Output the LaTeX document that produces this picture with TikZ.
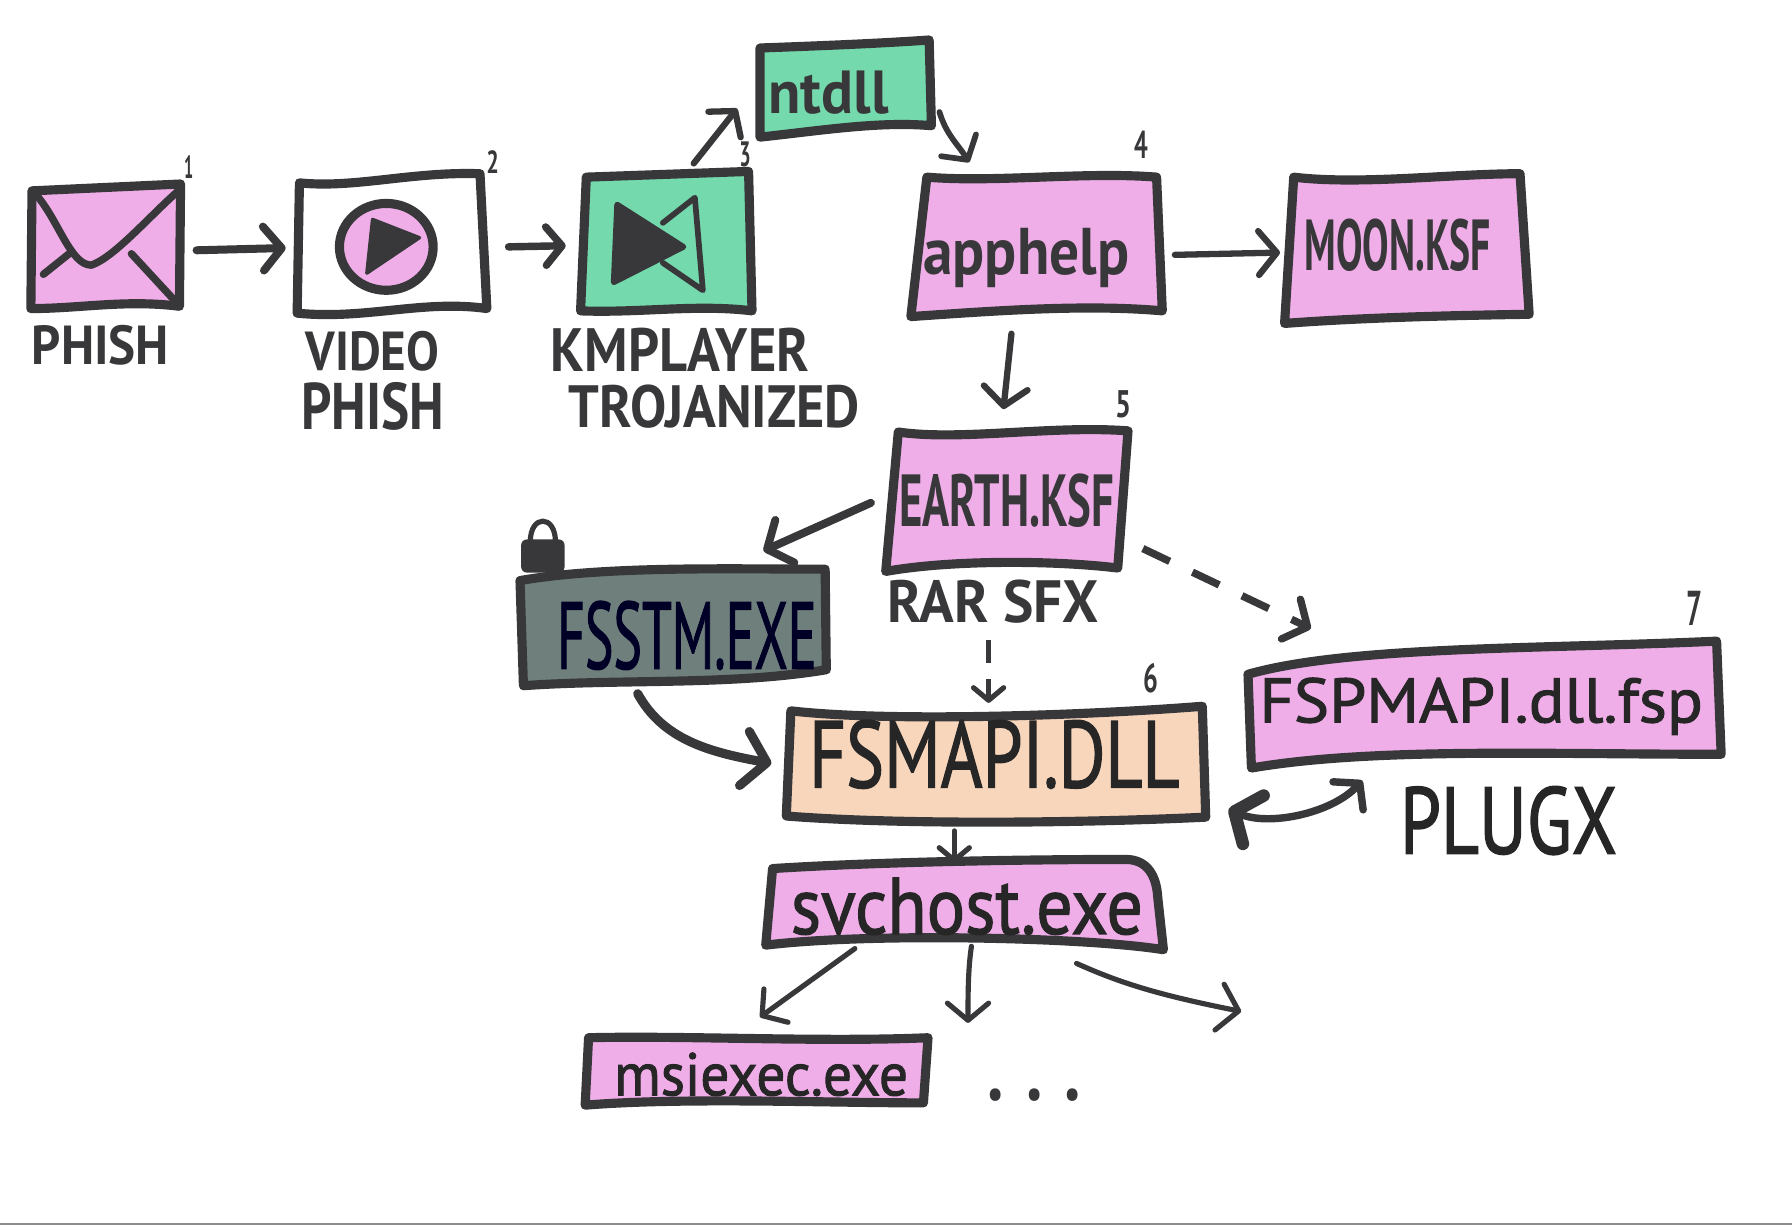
\documentclass[tikz,border=0pt]{standalone}
\usepackage{graphicx}
\usepackage{fontspec}
\setmainfont{PT Sans}
\newfontfamily\midfont[FakeBold=1.6]{PT Sans}
\usetikzlibrary{arrows.meta,calc}
\definecolor{ink}{HTML}{38383A}
\definecolor{pinkm}{HTML}{F0AEE8}
\definecolor{greenm}{HTML}{74D9AC}
\definecolor{peachm}{HTML}{F8D6BC}
\definecolor{darkm}{HTML}{6F7F7C}
\tikzset{
  hit/.style={inner sep=0pt,outer sep=0pt,draw=none,rectangle},
  boxline/.style={draw=ink,line width=8pt,line join=round,line cap=round},
  lab/.style={inner sep=0pt,outer sep=0pt,text=ink,font=\bfseries},
  thinlab/.style={inner sep=0pt,outer sep=0pt,text=black!85,font=\midfont},
  darklab/.style={inner sep=0pt,outer sep=0pt,text=black!85!blue,font=\midfont},
  wire/.style={draw=ink,line cap=round,line join=round,-{Straight Barb[length=#1*1.0pt,width=#1*2.4pt,round]}},
  wire/.default=14,
  dashwire/.style={wire=16,line width=6.5pt,dash pattern=on 26pt off 22pt,line cap=butt},
}
\newcommand{\mylab}[6][lab]{\node[#1] (#2) at (#3) {\resizebox*{#4pt}{#5pt}{#6}};}
\begin{document}
\begin{tikzpicture}[x=1pt,y=-1pt]
\useasboundingbox (0,0) rectangle (1568,1078);
\fill[white] (0,0) rectangle (1568,1078);
\coordinate (scanl) at (0,1071); \coordinate (scanr) at (1568,1071);
\draw[black!45,line width=1.2pt] (scanl) -- (scanr);

% connection-anchor nodes of the boxes
\node[hit,minimum width=132pt,minimum height=110pt] (env) at (92,216) {};
\node[hit,minimum width=164pt,minimum height=122pt] (video) at (342,214) {};
\node[hit,minimum width=148pt,minimum height=122pt] (km) at (583,212) {};
\node[hit,minimum width=150pt,minimum height=84pt] (ntdll) at (740,78) {};
\node[hit,minimum width=220pt,minimum height=122pt] (apphelp) at (907,215) {};
\node[hit,minimum width=214pt,minimum height=130pt] (moon) at (1231,217) {};
\node[hit,minimum width=212pt,minimum height=124pt] (earth) at (881,437) {};
\node[hit,minimum width=268pt,minimum height=102pt] (fsstm) at (590,549) {};
\node[hit,minimum width=368pt,minimum height=98pt] (fsmapi) at (871,667) {};
\node[hit,minimum width=412pt,minimum height=112pt] (fspmapi) at (1299,616) {};
\node[hit,minimum width=348pt,minimum height=80pt] (svchost) at (844,792) {};
\node[hit,minimum width=300pt,minimum height=60pt] (msiexec) at (662,937) {};
\coordinate (free1) at (847,895);
\coordinate (free2) at (1086,885);

% boxes
\path[boxline,fill=pinkm] (28,167) -- (158,161) -- (157,268) .. controls (110,262) and (70,270) .. (27,270) -- cycle;
\path[boxline,fill=white] (262,160) .. controls (310,165) and (360,150) .. (420,152) -- (426,270) .. controls (370,262) and (320,280) .. (260,274) -- cycle;
\path[boxline,fill=greenm] (513,155) -- (655,150) -- (658,272) .. controls (610,266) and (560,274) .. (508,272) -- cycle;
\path[boxline,fill=greenm] (665,42) .. controls (720,40) and (770,38) .. (813,35) -- (815,110) .. controls (770,106) and (720,114) .. (665,120) -- cycle;
\path[boxline,fill=pinkm] (811,155) .. controls (870,160) and (950,150) .. (1012,155) -- (1017,272) .. controls (950,266) and (870,272) .. (797,277) -- cycle;
\path[boxline,fill=pinkm] (1132,155) .. controls (1190,162) and (1270,152) .. (1330,152) -- (1338,275) .. controls (1270,276) and (1190,278) .. (1124,283) -- cycle;
\path[boxline,fill=pinkm] (786,378) .. controls (840,386) and (920,372) .. (987,377) -- (978,497) .. controls (920,490) and (830,490) .. (775,500) -- cycle;
\path[boxline,fill=darkm] (455,508) .. controls (530,495) and (640,498) .. (722,498) -- (723,586) .. controls (640,600) and (540,594) .. (458,600) -- cycle;
\path[boxline,fill=peachm] (692,622) .. controls (780,632) and (950,626) .. (1052,618) -- (1055,715) .. controls (950,720) and (790,722) .. (688,714) -- cycle;
\path[boxline,fill=pinkm] (1092,590) .. controls (1180,565) and (1350,568) .. (1502,561) -- (1506,660) .. controls (1350,660) and (1200,654) .. (1095,672) -- cycle;
\path[boxline,fill=pinkm] (676,760) .. controls (770,754) and (900,752) .. (985,752) .. controls (1005,752) and (1012,768) .. (1013,785) -- (1018,831) .. controls (950,820) and (760,816) .. (670,827) -- cycle;
\path[boxline,fill=pinkm] (515,908) .. controls (600,906) and (720,912) .. (812,908) -- (808,965) .. controls (720,965) and (600,960) .. (512,967) -- cycle;

% envelope
\draw[ink,line width=6.5pt,line cap=round,line join=round] (33,172) .. controls (52,195) and (62,232) .. (80,232) .. controls (100,225) and (130,190) .. (156,167);
\draw[ink,line width=6.5pt,line cap=round] (63,220) -- (38,240);
\draw[ink,line width=6.5pt,line cap=round] (115,222) -- (151,261);
% play button
\draw[ink,line width=8pt,fill=pinkm] (338,216) ellipse [x radius=41pt,y radius=38pt];
\fill[ink,draw=ink,line width=3pt,line join=round] (326,192) -- (367,208) -- (321,239) -- cycle;
% KMPlayer logo
\fill[ink,draw=ink,line width=5pt,line join=round] (540,179) -- (598,216) -- (537,247) -- cycle;
\draw[ink,line width=5pt,line join=round,line cap=round] (580,195) -- (608,173) -- (615,254) -- (580,230);
% lock
\fill[ink,rounded corners=5pt] (456,472) rectangle (494,501);
\draw[ink,line width=4.5pt] (464,474) .. controls (464,450) and (486,450) .. (486,474);

% connectors
\draw[wire=16,line width=7pt] ([shift={(14,3)}]env.east) -- ([shift={(-10,3)}]video.west);
\draw[wire=14,line width=6.5pt] ([shift={(21,2)}]video.east) -- ([shift={(-14,3)}]km.west);
\draw[wire=15,line width=5.5pt] ([shift={(24,-8)}]km.north) -- ([shift={(-20,17)}]ntdll.west);
\draw[wire=15,line width=5pt] ([shift={(7,20)}]ntdll.east) .. controls +(6,20) and +(-10,-16) .. ([shift={(-59,-12)}]apphelp.north);
\draw[wire=16,line width=5.5pt] ([shift={(11,8)}]apphelp.east) -- ([shift={(-4,4)}]moon.west);
\draw[wire=16,line width=5.5pt] ([shift={(-22,16)}]apphelp.south) -- ([shift={(-3,-17)}]earth.north);
\draw[wire=17,line width=7pt] ([shift={(-13,3)}]earth.west) -- ([shift={(78,-16)}]fsstm.north);
\draw[dashwire] ([shift={(13,43)}]earth.east) -- ([shift={(-152,-10)}]fspmapi.north);
\draw[wire=11,line width=4.5pt,dash pattern=on 20pt off 14pt,line cap=butt] ([shift={(-16,61)}]earth.south) -- ([shift={(-6,-3)}]fsmapi.north);
\draw[wire=20,line width=8pt] ([shift={(-32,7)}]fsstm.south) .. controls +(22,40) and +(-55,-10) .. ([shift={(-12,1)}]fsmapi.west);
\draw[wire=11,line width=4.5pt] ([shift={(-36,11)}]fsmapi.south) -- ([shift={(-9,3)}]svchost.north);
\draw[draw=ink,line width=6.5pt,line cap=round,{Straight Barb[length=18pt,width=46pt,line width=11pt,round]}-{Straight Barb[length=15pt,width=36pt,round]}] ([shift={(20,41)}]fsmapi.east) .. controls +(35,15) and +(-27,29) .. ([shift={(-107,11)}]fspmapi.south);
\draw[wire=15,line width=4.5pt] ([shift={(-96,-2)}]svchost.south) -- ([shift={(3,-17)}]msiexec.north);
\draw[wire=15,line width=4.5pt] ([shift={(6,-4)}]svchost.south) .. controls +(-3,20) and +(0,-25) .. (free1);
\draw[wire=17,line width=4.5pt] ([shift={(98,11)}]svchost.south) .. controls +(40,18) and +(-70,-14) .. (free2);

% labels
\mylab{tphish}{88,302}{120}{35}{PHISH}
\mylab{tvideo}{326,307}{117}{35}{VIDEO}
\mylab{tvphish}{326,356}{125}{42}{PHISH}
\mylab{tkm}{595,306}{226}{38}{KMPLAYER}
\mylab{ttroj}{625,356}{255}{38}{TROJANIZED}
\mylab{tntdll}{725,81}{105}{38}{ntdll}
\mylab{tapp}{898,226}{180}{52}{apphelp}
\mylab{tmoon}{1223,215}{163}{46}{MOON.KSF}
\mylab{tearth}{881,438}{188}{47}{EARTH.KSF}
\mylab{trar}{869,526}{185}{38}{RAR SFX}
\mylab[darklab]{tfsstm}{601,556}{227}{60}{FSSTM.EXE}
\mylab[thinlab]{tfsmapi}{870,660}{324}{60}{FSMAPI.DLL}
\mylab[thinlab]{tfsp}{1296,618}{388}{50}{FSPMAPI.dll.fsp}
\mylab[thinlab]{tplug}{1320,718}{190}{60}{PLUGX}
\mylab[thinlab]{tsvc}{846,793}{308}{50}{svchost.exe}
\mylab[thinlab]{tmsi}{666,940}{257}{38}{msiexec.exe}
\mylab{tdots}{905,958}{82}{11}{. . .}
\mylab{n1}{165,146}{8}{20}{1}
\mylab{n2}{431,142}{11}{20}{2}
\mylab{n3}{652,135}{10}{22}{3}
\mylab{n4}{999,127}{12}{24}{4}
\mylab{n5}{983,354}{14}{24}{5}
\mylab{n6}{1007,593}{13}{26}{6}
\mylab{n7}{1483,532}{14}{30}{7}
\end{tikzpicture}
\end{document}
